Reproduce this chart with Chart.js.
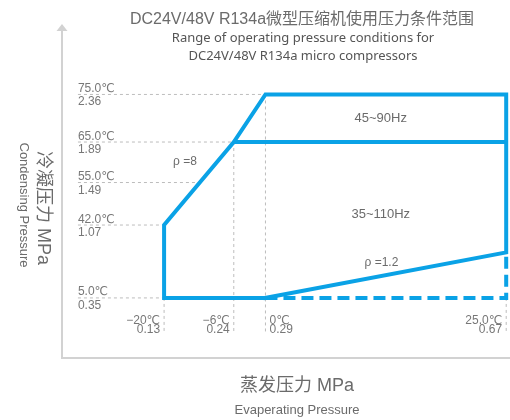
<!DOCTYPE html>
<html>
<head>
<meta charset="utf-8">
<title>DC24V/48V R134a 压力条件范围</title>
<script src="https://cdn.jsdelivr.net/npm/chart.js@4.4.1/dist/chart.umd.min.js"></script>
<style>
  html, body { margin: 0; padding: 0; background: #fff; }
  #wrap { width: 510px; height: 420px; }
</style>
</head>
<body>
<div id="wrap"><canvas id="envelope" width="510" height="420"></canvas></div>
<script>
/* ─── Data ──────────────────────────────────────────────────────────────── */
// evaporating side (x): saturation temperature + pressure, MPa
const evapTemps = ['−20℃', '−6℃', '0℃', '25.0℃'];
const evapPress = [0.13, 0.24, 0.29, 0.67];
// condensing side (y)
const condTemps = ['75.0℃', '65.0℃', '55.0℃', '42.0℃', '5.0℃'];
const condPress = [2.36, 1.89, 1.49, 1.07, 0.35];

// operating envelope outline (solid part, closed via the ρ=1.2 edge)
const envEvap = [0.29, 0.13, 0.13, 0.24, 0.29, 0.67, 0.67, 0.29];
const envCond = [0.35, 0.35, 1.07, 1.89, 2.36, 2.36, 0.80, 0.35];
// 45~90Hz / 35~110Hz split
const splitEvap = [0.24, 0.67];
const splitCond = [1.89, 1.89];
// dashed extension below the ρ=1.2 edge
const dashEvap = [0.29, 0.67, 0.67];
const dashCond = [0.35, 0.35, 0.80];
// where the vertical guides start (condensing pressure at each corner)
const guideTop = [0.35, 1.89, 2.36, 0.35];

const regionLabels = ['45~90Hz', '35~110Hz', 'ρ =8', 'ρ =1.2'];
const regionAt = [[0.472, 2.125], [0.472, 1.17], [0.163, 1.693], [0.473, 0.695]];

/* ─── Look ──────────────────────────────────────────────────────────────── */
const BLUE  = '#0aa2e6';
const GUIDE = '#bdbdbd';
const TEXT  = '#6b6b6b';
const X_MIN = -0.129, X_MAX = 0.676;
const Y_MIN = -0.856, Y_MAX = 3.293;
const GUIDE_X0 = -0.006, GUIDE_Y0 = 0.0;

const pts = (xs, ys) => xs.map((x, i) => ({ x, y: ys[i] }));

// x of the left (ρ=8) boundary at a given condensing pressure
function leftEdgeAt(p) {
  const xs = envEvap.slice(1, 5), ys = envCond.slice(1, 5);
  for (let i = 0; i < ys.length - 1; i++) {
    if (p >= ys[i] && p <= ys[i + 1]) {
      const t = (p - ys[i]) / (ys[i + 1] - ys[i]);
      return xs[i] + t * (xs[i + 1] - xs[i]);
    }
  }
  return xs[0];
}

const guideSets = [];
condPress.forEach(p => guideSets.push(pts([GUIDE_X0, leftEdgeAt(p)], [p, p])));
evapPress.forEach((e, i) => guideSets.push(pts([e, e], [guideTop[i], GUIDE_Y0])));

const datasets = guideSets.map(d => ({
  data: d, borderColor: GUIDE, borderWidth: 1, borderDash: [3, 3], order: 3,
}));
datasets.push(
  { data: pts(envEvap, envCond), borderColor: BLUE, borderWidth: 4, order: 1,
    borderJoinStyle: 'miter', borderCapStyle: 'square' },
  { data: pts(splitEvap, splitCond), borderColor: BLUE, borderWidth: 4, order: 1 },
  { data: pts(dashEvap, dashCond), borderColor: BLUE, borderWidth: 4, order: 2,
    borderDash: [12, 6], borderJoinStyle: 'miter' },
);
datasets.forEach(d => Object.assign(d, { showLine: true, pointRadius: 0, fill: false, tension: 0 }));

/* ─── Axes, arrow and all text ──────────────────────────────────────────── */
const diagramDecor = {
  id: 'diagramDecor',
  beforeDatasetsDraw(chart) {
    const ctx = chart.ctx;
    ctx.save();
    ctx.strokeStyle = '#d2d2d2';
    ctx.lineWidth = 2;
    ctx.beginPath();
    ctx.moveTo(62, 30);
    ctx.lineTo(62, 358);
    ctx.lineTo(510, 358);
    ctx.stroke();
    ctx.fillStyle = '#d2d2d2';
    ctx.beginPath();
    ctx.moveTo(62, 24);
    ctx.lineTo(56.5, 31);
    ctx.lineTo(67.5, 31);
    ctx.closePath();
    ctx.fill();
    ctx.restore();
  },
  afterDatasetsDraw(chart) {
    const { ctx, scales: { x, y } } = chart;
    ctx.save();
    ctx.fillStyle = TEXT;
    ctx.textBaseline = 'alphabetic';

    // title block
    ctx.textAlign = 'center';
    ctx.font = '16px "Liberation Sans", "Noto Sans CJK SC", sans-serif';
    ctx.fillText('DC24V/48V R134a微型压缩机使用压力条件范围', 302, 24);
    ctx.fillStyle = '#555';
    ctx.font = '13px "Noto Sans", sans-serif';
    ctx.fillText('Range of operating pressure conditions for', 303, 42);
    ctx.fillText('DC24V/48V R134a micro compressors', 303, 60);

    // condensing ticks: temperature above the guide, pressure below
    ctx.fillStyle = '#777';
    ctx.font = '12px "Liberation Sans", "DejaVu Sans", sans-serif';
    ctx.textAlign = 'left';
    const gx = x.getPixelForValue(GUIDE_X0);
    condPress.forEach((p, i) => {
      const py = y.getPixelForValue(p);
      ctx.fillText(condTemps[i], gx, py - 2.5);
      ctx.fillText(p.toFixed(2), gx, py + 11);
    });

    // evaporating ticks
    const gy = y.getPixelForValue(GUIDE_Y0);
    const sides = ['right', 'right', 'left', 'right'];
    evapPress.forEach((e, i) => {
      const px = x.getPixelForValue(e);
      ctx.textAlign = sides[i];
      const tx = sides[i] === 'left' ? px + 4 : px - 4;
      ctx.fillText(evapTemps[i], tx, gy - 9.5);
      ctx.fillText(e.toFixed(2), tx, gy);
    });

    // region and ratio labels
    ctx.fillStyle = TEXT;
    ctx.textAlign = 'center';
    ctx.textBaseline = 'middle';
    regionLabels.forEach((t, i) => {
      ctx.font = (t.startsWith('ρ') ? '12px' : '13px') + ' "Liberation Sans", sans-serif';
      ctx.fillText(t, x.getPixelForValue(regionAt[i][0]), y.getPixelForValue(regionAt[i][1]));
    });

    // axis titles
    ctx.font = '18px "Liberation Sans", "Noto Sans CJK SC", sans-serif';
    ctx.fillText('蒸发压力 MPa', 297, 386);
    ctx.font = '13px "Liberation Sans", sans-serif';
    ctx.fillText('Evaperating Pressure', 297, 410);

    ctx.translate(43, 208);
    ctx.rotate(Math.PI / 2);
    ctx.font = '18px "Liberation Sans", "Noto Sans CJK SC", sans-serif';
    ctx.fillText('冷凝压力 MPa', 0, 0);
    ctx.font = '13px "Liberation Sans", sans-serif';
    ctx.fillText('Condensing Pressure', -3, 19);
    ctx.restore();
  },
};

new Chart(document.getElementById('envelope'), {
  type: 'scatter',
  data: { datasets },
  options: {
    responsive: false,
    animation: false,
    layout: { padding: 0 },
    plugins: { legend: { display: false }, tooltip: { enabled: false }, title: { display: false } },
    scales: {
      x: { type: 'linear', min: X_MIN, max: X_MAX, display: false },
      y: { type: 'linear', min: Y_MIN, max: Y_MAX, display: false },
    },
  },
  plugins: [diagramDecor],
});
</script>
</body>
</html>
